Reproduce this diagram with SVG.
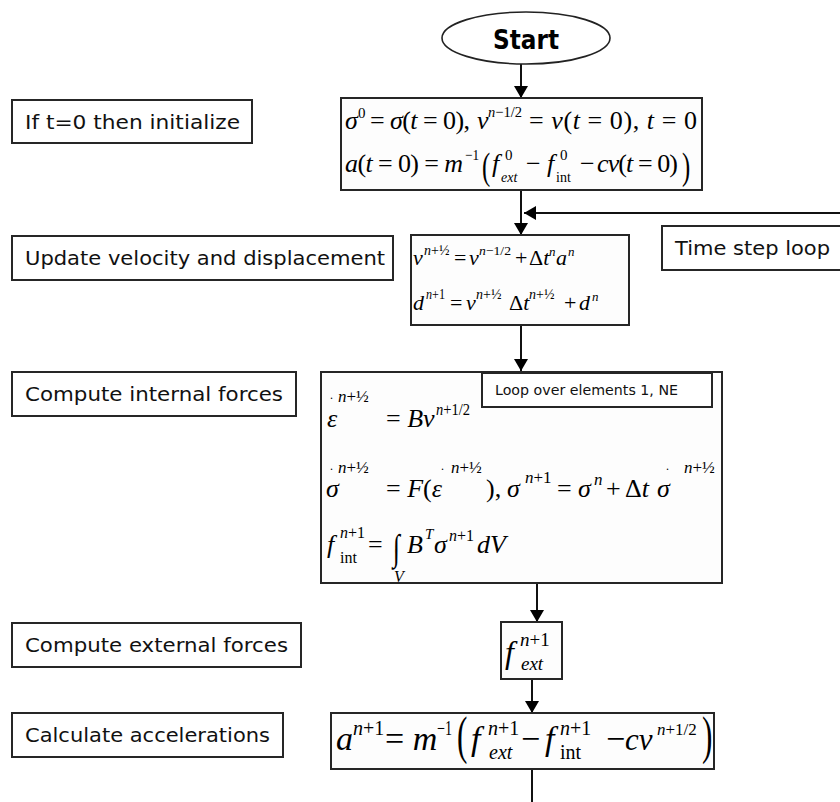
<svg xmlns="http://www.w3.org/2000/svg" width="840" height="802" viewBox="0 0 840 802">
  <defs>
    <marker id="arrow" viewBox="0 0 12 14" refX="12" refY="7" markerWidth="12" markerHeight="14" markerUnits="userSpaceOnUse" orient="auto">
      <path d="M0,0 L12,7 L0,14 Z" fill="#000"/>
    </marker>
    <style>
      .box { fill: #fff; stroke: #262626; stroke-width: 2; }
      .fbox { fill: #fdfdfd; stroke: #262626; stroke-width: 2; }
      .lbl { font-family: "DejaVu Sans", Verdana, sans-serif; font-size: 20px; fill: #111; }
      .m { font-family: "Liberation Serif", "Times New Roman", serif; fill: #000; }
      .i { font-style: italic; }
      .edge { fill: none; stroke: #111; stroke-width: 2; }
    </style>
  </defs>

  <rect width="840" height="802" fill="#fff"/>

  <!-- step descriptions on the left -->
  <g id="label-init">
    <rect class="box" x="12" y="100" width="240" height="43"/>
    <text class="lbl" x="25" y="129" textLength="215" lengthAdjust="spacingAndGlyphs">If t=0 then initialize</text>
  </g>
  <g id="label-update">
    <rect class="box" x="12" y="236" width="381" height="44"/>
    <text class="lbl" x="25" y="265" textLength="360" lengthAdjust="spacingAndGlyphs">Update velocity and displacement</text>
  </g>
  <g id="label-internal">
    <rect class="box" x="12" y="372" width="284" height="44"/>
    <text class="lbl" x="25" y="401" textLength="258" lengthAdjust="spacingAndGlyphs">Compute internal forces</text>
  </g>
  <g id="label-external">
    <rect class="box" x="12" y="623" width="289" height="44"/>
    <text class="lbl" x="25" y="652" textLength="263" lengthAdjust="spacingAndGlyphs">Compute external forces</text>
  </g>
  <g id="label-accel">
    <rect class="box" x="12" y="713" width="271" height="44"/>
    <text class="lbl" x="25" y="742" textLength="245" lengthAdjust="spacingAndGlyphs">Calculate accelerations</text>
  </g>
  <g id="label-timestep">
    <rect class="box" x="662" y="226" width="190" height="44"/>
    <text class="lbl" x="675" y="255" textLength="155" lengthAdjust="spacingAndGlyphs">Time step loop</text>
  </g>

  <!-- connectors -->
  <g id="connectors">
    <line class="edge" x1="521" y1="64" x2="521" y2="98" marker-end="url(#arrow)"/>
    <line class="edge" x1="521" y1="190" x2="521" y2="235" marker-end="url(#arrow)"/>
    <line class="edge" x1="840" y1="213" x2="524" y2="213" marker-end="url(#arrow)"/>
    <line class="edge" x1="521" y1="325" x2="521" y2="371" marker-end="url(#arrow)"/>
    <line class="edge" x1="537" y1="583" x2="537" y2="622" marker-end="url(#arrow)"/>
    <line class="edge" x1="532" y1="679" x2="532" y2="713" marker-end="url(#arrow)"/>
    <line class="edge" x1="532" y1="769" x2="532" y2="802"/>
  </g>

  <!-- start terminal -->
  <g id="start">
    <ellipse cx="526" cy="38" rx="84" ry="26" fill="#fff" stroke="#222" stroke-width="1.6"/>
    <text x="493" y="49" font-family="'DejaVu Sans', Verdana, sans-serif" font-weight="bold" font-size="27" fill="#000" textLength="66" lengthAdjust="spacingAndGlyphs">Start</text>
  </g>

  <!-- initialisation -->
  <g id="init">
    <rect class="fbox" x="341" y="98" width="361" height="92"/>
    <!-- first line -->
    <text class="m i" x="345" y="129" font-size="26">σ</text>
    <text class="m" x="358" y="118" font-size="15">0</text>
    <text class="m" x="370" y="129" font-size="26" textLength="100" lengthAdjust="spacing">= <tspan class="i">σ</tspan>(<tspan class="i">t</tspan> = 0),</text>
    <text class="m i" x="477" y="129" font-size="26">v</text>
    <text class="m" x="488" y="117" font-size="15" textLength="34" lengthAdjust="spacingAndGlyphs"><tspan class="i">n</tspan>−1/2</text>
    <text class="m" x="529" y="129" font-size="26" textLength="168" lengthAdjust="spacing">= <tspan class="i">v</tspan>(<tspan class="i">t</tspan> = 0), <tspan class="i">t</tspan> = 0</text>
    <!-- second line -->
    <text class="m" x="345" y="172" font-size="26" textLength="118" lengthAdjust="spacing"><tspan class="i">a</tspan>(<tspan class="i">t</tspan> = 0) = <tspan class="i">m</tspan></text>
    <text class="m" x="465" y="160" font-size="15" textLength="14" lengthAdjust="spacingAndGlyphs">−1</text>
    <text class="m" font-size="38" transform="translate(482 179) scale(0.65 1)">(</text>
    <text class="m i" x="492" y="172" font-size="26">f</text>
    <text class="m" x="505" y="160" font-size="15">0</text>
    <text class="m i" x="501" y="182" font-size="14">ext</text>
    <text class="m" x="526" y="172" font-size="26">−</text>
    <text class="m i" x="547" y="172" font-size="26">f</text>
    <text class="m" x="560" y="160" font-size="15">0</text>
    <text class="m" x="556" y="182" font-size="14">int</text>
    <text class="m" x="580" y="172" font-size="26">−</text>
    <text class="m" x="597" y="172" font-size="26" textLength="81" lengthAdjust="spacing"><tspan class="i">cv</tspan>(<tspan class="i">t</tspan> = 0)</text>
    <text class="m" font-size="38" transform="translate(682 179) scale(0.65 1)">)</text>
  </g>

  <!-- velocity / displacement update -->
  <g id="update">
    <rect class="fbox" x="411" y="235" width="218" height="90"/>
    <text class="m i" x="413" y="265" font-size="22">v</text>
    <text class="m" x="424" y="255" font-size="14"><tspan class="i">n</tspan>+½</text>
    <text class="m" x="454" y="265" font-size="22">=</text>
    <text class="m i" x="469" y="265" font-size="22">v</text>
    <text class="m" x="479" y="255" font-size="13" textLength="32" lengthAdjust="spacingAndGlyphs"><tspan class="i">n</tspan>−1/2</text>
    <text class="m" x="515" y="265" font-size="22">+</text>
    <text class="m" x="529" y="265" font-size="22">Δ<tspan class="i">t</tspan></text>
    <text class="m i" x="549" y="256" font-size="13">n</text>
    <text class="m i" x="556" y="265" font-size="22">a</text>
    <text class="m i" x="568" y="256" font-size="13">n</text>

    <text class="m i" x="413" y="310" font-size="22">d</text>
    <text class="m" x="426" y="299" font-size="14" textLength="19" lengthAdjust="spacingAndGlyphs"><tspan class="i">n</tspan>+1</text>
    <text class="m" x="450" y="310" font-size="22">=</text>
    <text class="m i" x="466" y="310" font-size="22">v</text>
    <text class="m" x="476" y="299" font-size="14"><tspan class="i">n</tspan>+½</text>
    <text class="m" x="509" y="310" font-size="22">Δ<tspan class="i">t</tspan></text>
    <text class="m" x="529" y="299" font-size="14"><tspan class="i">n</tspan>+½</text>
    <text class="m" x="564" y="310" font-size="22">+</text>
    <text class="m i" x="579" y="310" font-size="22">d</text>
    <text class="m i" x="592" y="301" font-size="13">n</text>
  </g>

  <!-- internal forces, element loop -->
  <g id="internal">
    <rect class="fbox" x="321" y="372" width="401" height="211"/>
    <g id="element-loop">
      <rect class="box" x="482" y="373" width="230" height="34"/>
      <text x="495" y="395" font-family="'DejaVu Sans', Verdana, sans-serif" font-size="14" fill="#111" textLength="183" lengthAdjust="spacingAndGlyphs">Loop over elements 1, NE</text>
    </g>
    <!-- strain rate -->
    <text class="m i" x="327" y="427" font-size="26">ε</text>
    <text class="m" x="330" y="399" font-size="12">.</text>
    <text class="m" x="338" y="402" font-size="17"><tspan class="i">n</tspan>+½</text>
    <text class="m" x="386" y="427" font-size="26">= <tspan class="i">Bv</tspan></text>
    <text class="m" x="436" y="415" font-size="17" textLength="34" lengthAdjust="spacingAndGlyphs"><tspan class="i">n</tspan>+1/2</text>
    <!-- stress rate and stress update -->
    <text class="m i" x="326" y="497" font-size="26">σ</text>
    <text class="m" x="330" y="470" font-size="12">.</text>
    <text class="m" x="338" y="473" font-size="17"><tspan class="i">n</tspan>+½</text>
    <text class="m" x="386" y="497" font-size="26">= <tspan class="i">F</tspan>(<tspan class="i">ε</tspan></text>
    <text class="m" x="441" y="470" font-size="12">.</text>
    <text class="m" x="451" y="473" font-size="17"><tspan class="i">n</tspan>+½</text>
    <text class="m" x="486" y="497" font-size="26">),</text>
    <text class="m i" x="507" y="497" font-size="26">σ</text>
    <text class="m" x="525" y="483" font-size="17"><tspan class="i">n</tspan>+1</text>
    <text class="m" x="557" y="497" font-size="26">=</text>
    <text class="m i" x="578" y="497" font-size="26">σ</text>
    <text class="m i" x="594" y="485" font-size="17">n</text>
    <text class="m" x="606" y="497" font-size="26">+</text>
    <text class="m" x="625" y="497" font-size="26">Δ<tspan class="i">t</tspan></text>
    <text class="m i" x="657" y="497" font-size="26">σ</text>
    <text class="m" x="666" y="470" font-size="12">.</text>
    <text class="m" x="684" y="473" font-size="17"><tspan class="i">n</tspan>+½</text>
    <!-- internal force integral -->
    <text class="m i" x="327" y="553" font-size="26">f</text>
    <text class="m" x="340" y="538" font-size="16"><tspan class="i">n</tspan>+1</text>
    <text class="m" x="340" y="563" font-size="16">int</text>
    <text class="m" x="368" y="553" font-size="26">=</text>
    <text class="m" font-size="32" transform="translate(393 560) scale(0.8 1.15)">∫</text>
    <text class="m i" x="394" y="582" font-size="16">V</text>
    <text class="m i" x="407" y="553" font-size="26">B</text>
    <text class="m i" x="425" y="539" font-size="15">T</text>
    <text class="m i" x="434" y="553" font-size="26">σ</text>
    <text class="m" x="449" y="541" font-size="16"><tspan class="i">n</tspan>+1</text>
    <text class="m i" x="477" y="553" font-size="26">dV</text>
  </g>

  <!-- external force -->
  <g id="external">
    <rect class="fbox" x="501" y="622" width="61" height="57"/>
    <text class="m i" x="505" y="663" font-size="32">f</text>
    <text class="m" x="520" y="646" font-size="19"><tspan class="i">n</tspan>+1</text>
    <text class="m i" x="521" y="670" font-size="19">ext</text>
  </g>

  <!-- accelerations -->
  <g id="accel">
    <rect class="fbox" x="331" y="713" width="383" height="56"/>
    <text class="m i" x="336" y="750" font-size="34">a</text>
    <text class="m" x="353" y="735" font-size="20"><tspan class="i">n</tspan>+1</text>
    <text class="m" x="385" y="750" font-size="34">= <tspan class="i">m</tspan></text>
    <text class="m" x="437" y="735" font-size="20" textLength="15" lengthAdjust="spacingAndGlyphs">−1</text>
    <text class="m" font-size="52" transform="translate(457 753) scale(0.6 1)">(</text>
    <text class="m i" x="471" y="750" font-size="34">f</text>
    <text class="m" x="488" y="735" font-size="20"><tspan class="i">n</tspan>+1</text>
    <text class="m i" x="489" y="759" font-size="20">ext</text>
    <text class="m" x="521" y="750" font-size="34">−</text>
    <text class="m i" x="545" y="750" font-size="34">f</text>
    <text class="m" x="560" y="735" font-size="20"><tspan class="i">n</tspan>+1</text>
    <text class="m" x="560" y="759" font-size="20">int</text>
    <text class="m" x="606" y="750" font-size="34">−</text>
    <text class="m i" x="625" y="750" font-size="31">cv</text>
    <text class="m" x="657" y="735" font-size="17"><tspan class="i">n</tspan>+1/2</text>
    <text class="m" font-size="52" transform="translate(702 753) scale(0.6 1)">)</text>
  </g>
</svg>
